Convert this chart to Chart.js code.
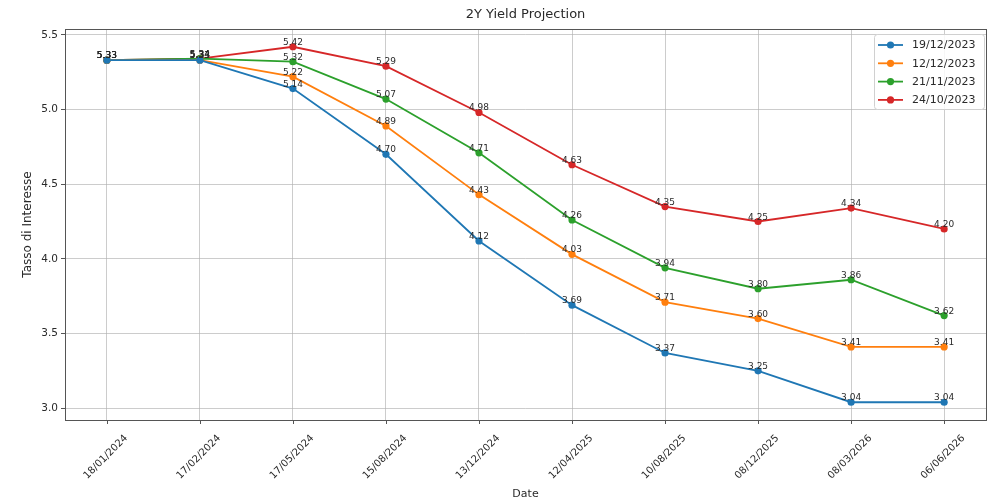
<!DOCTYPE html>
<html>
<head>
<meta charset="utf-8">
<script src="https://cdn.jsdelivr.net/npm/chart.js@4.4.1/dist/chart.umd.min.js"></script>
<style>
  html, body { margin: 0; padding: 0; background: #fff; }
  #wrap { width: 993px; height: 502px; }
</style>
</head>
<body>
<div id="wrap"><canvas id="yieldChart" width="993" height="502"></canvas></div>
<script>
// dates on the x axis
const dates = ['18/01/2024', '17/02/2024', '17/05/2024', '15/08/2024', '13/12/2024',
               '12/04/2025', '10/08/2025', '08/12/2025', '08/03/2026', '06/06/2026'];

// one projection per curve date
const curveNames = ['19/12/2023', '12/12/2023', '21/11/2023', '24/10/2023'];
const dec19 = [5.33, 5.33, 5.14, 4.70, 4.12, 3.69, 3.37, 3.25, 3.04, 3.04];
const dec12 = [5.33, 5.33, 5.22, 4.89, 4.43, 4.03, 3.71, 3.60, 3.41, 3.41];
const nov21 = [5.33, 5.34, 5.32, 5.07, 4.71, 4.26, 3.94, 3.80, 3.86, 3.62];
const oct24 = [5.33, 5.34, 5.42, 5.29, 4.98, 4.63, 4.35, 4.25, 4.34, 4.20];

const yTicks = [3.0, 3.5, 4.0, 4.5, 5.0, 5.5];
const colors = ['#1f77b4', '#ff7f0e', '#2ca02c', '#d62728'];

const FONT = '"DejaVu Sans", sans-serif';
const series = [dec19, dec12, nov21, oct24];

const datasets = series.map((vals, i) => ({
    label: curveNames[i],
    data: vals.map((v, j) => ({ x: j, y: v })),
    borderColor: colors[i],
    backgroundColor: colors[i],
    borderWidth: 1.8,
    pointRadius: 3.6,
    pointBorderWidth: 0,
    tension: 0,
}));

// extra drawing: frame, title, axis titles, rotated dates, value labels, legend
const decorations = {
    id: 'decorations',
    afterDatasetsDraw(chart) {
        const ctx = chart.ctx;
        const area = chart.chartArea;
        const xs = chart.scales.x;
        const ys = chart.scales.y;
        ctx.save();

        // value labels
        ctx.font = '9px ' + FONT;
        ctx.fillStyle = '#2a2a2a';
        ctx.textAlign = 'center';
        ctx.textBaseline = 'alphabetic';
        chart.data.datasets.forEach((ds) => {
            ds.data.forEach((p) => {
                ctx.fillText(p.y.toFixed(2), xs.getPixelForValue(p.x), ys.getPixelForValue(p.y) - 2);
            });
        });

        // frame
        ctx.strokeStyle = '#555';
        ctx.lineWidth = 1;
        ctx.strokeRect(Math.round(area.left) + 0.5, Math.round(area.top) + 0.5,
                       Math.round(area.right - area.left), Math.round(area.bottom - area.top));

        // x tick marks and rotated labels
        ctx.font = '10px ' + FONT;
        ctx.fillStyle = '#2a2a2a';
        dates.forEach((d, i) => {
            const x = xs.getPixelForValue(i);
            ctx.beginPath();
            ctx.moveTo(Math.round(x) + 0.5, area.bottom);
            ctx.lineTo(Math.round(x) + 0.5, area.bottom + 4);
            ctx.stroke();
            ctx.save();
            ctx.translate(x - 1, 457);
            ctx.rotate(-Math.PI / 4);
            ctx.textAlign = 'center';
            ctx.textBaseline = 'middle';
            ctx.fillText(d, 0, 0);
            ctx.restore();
        });

        // titles
        ctx.fillStyle = '#2a2a2a';
        ctx.textAlign = 'center';
        ctx.textBaseline = 'middle';
        ctx.font = '13px ' + FONT;
        ctx.fillText('2Y Yield Projection', (area.left + area.right) / 2, 15);
        ctx.font = '11px ' + FONT;
        ctx.fillText('Date', (area.left + area.right) / 2, 494);
        ctx.save();
        ctx.font = '12px ' + FONT;
        ctx.translate(28, (area.top + area.bottom) / 2);
        ctx.rotate(-Math.PI / 2);
        ctx.fillText('Tasso di Interesse', 0, 0);
        ctx.restore();

        // legend box in upper right
        const bx = 874, by = 34, bw = 110, bh = 75;
        ctx.fillStyle = 'rgba(255,255,255,0.85)';
        ctx.strokeStyle = '#d0d0d0';
        ctx.beginPath();
        ctx.roundRect(bx + 0.5, by + 0.5, bw, bh, 3);
        ctx.fill();
        ctx.stroke();
        ctx.font = '11px ' + FONT;
        ctx.textAlign = 'left';
        curveNames.forEach((name, i) => {
            const ly = 45 + i * 18.3;
            ctx.strokeStyle = colors[i];
            ctx.lineWidth = 1.8;
            ctx.beginPath();
            ctx.moveTo(878, ly);
            ctx.lineTo(903, ly);
            ctx.stroke();
            ctx.fillStyle = colors[i];
            ctx.beginPath();
            ctx.arc(890.5, ly, 3.6, 0, Math.PI * 2);
            ctx.fill();
            ctx.fillStyle = '#2a2a2a';
            ctx.fillText(name, 912, ly + 0.5);
        });
        ctx.restore();
    },
};

new Chart(document.getElementById('yieldChart'), {
    type: 'line',
    data: { datasets },
    options: {
        responsive: false,
        animation: false,
        layout: { padding: { top: 29, right: 7, left: 0, bottom: 0 } },
        plugins: {
            legend: { display: false },
            title: { display: false },
            tooltip: { enabled: false },
        },
        scales: {
            x: {
                type: 'linear',
                min: -0.45,
                max: 9.45,
                afterBuildTicks: (s) => { s.ticks = dates.map((_, i) => ({ value: i })); },
                afterFit: (s) => { s.height = 82; },
                grid: { color: 'rgba(176,176,176,0.65)', lineWidth: 1, drawTicks: false },
                border: { display: false },
                ticks: { display: false },
            },
            y: {
                min: 2.921,
                max: 5.539,
                afterBuildTicks: (s) => { s.ticks = yTicks.map((v) => ({ value: v })); },
                afterFit: (s) => { s.width = 65; },
                grid: { color: 'rgba(176,176,176,0.65)', lineWidth: 1, tickLength: 4, tickColor: '#555' },
                border: { display: false },
                ticks: {
                    color: '#2a2a2a',
                    font: { family: FONT, size: 10.5 },
                    padding: 3,
                    callback: (v) => Number(v).toFixed(1),
                },
            },
        },
    },
    plugins: [decorations],
});
</script>
</body>
</html>
